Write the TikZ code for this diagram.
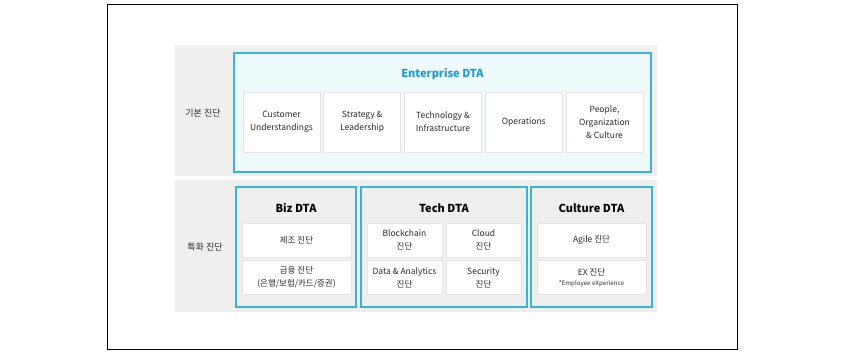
\documentclass[tikz,border=0pt]{standalone}
\usepackage{fontspec}
\setmainfont{Noto Sans CJK KR}
\usepackage{xcolor}
\usetikzlibrary{positioning}

\definecolor{dtacyan}{HTML}{3DB2D4}
\definecolor{dtatitle}{HTML}{1C9CC8}
\definecolor{dtafill}{HTML}{EEFAFC}
\definecolor{panelgray}{HTML}{EFEFEF}
\definecolor{cellline}{HTML}{E4E4E4}
\definecolor{textgray}{HTML}{2A2A2A}

\begin{document}
\begin{tikzpicture}[
  x=1pt, y=-1pt,
  font=\fontsize{8.5}{13}\selectfont,
  text=textgray,
  panel/.style={fill=panelgray, inner sep=0pt},
  group/.style={draw=dtacyan, line width=1.6pt, inner sep=0pt},
  cell/.style={draw=cellline, fill=white, line width=0.8pt,
               align=center, inner sep=0pt},
  title/.style={font=\fontsize{11}{13}\selectfont\bfseries, text=black},
  rowlabel/.style={font=\fontsize{9}{11}\selectfont}
]
  \useasboundingbox (0,0) rectangle (844,355);
  \draw[line width=1pt] (107,5) rectangle (737,350);

  % --- Gray background panels ---
  \node[panel, minimum width=482, minimum height=131] (basepanel) at (416,110.5) {};
  \node[panel, minimum width=482, minimum height=132] (specpanel) at (416,246) {};

  % --- Row labels ---
  \node[rowlabel] (baselbl) at (203,113) {기본 진단};
  \node[rowlabel] (speclbl) at (205,247) {특화 진단};

  % --- Enterprise DTA (top row) ---
  \node[group, fill=dtafill, minimum width=417, minimum height=119] (ent) at (442.5,112.5) {};
  \node[title, text=dtatitle] (enttitle) at (442.5,74) {Enterprise DTA};

  \node[cell, minimum width=77, minimum height=60] (cust)   at (281.5,122) {Customer\\Understandings};
  \node[cell, minimum width=77, minimum height=60] (strat)  at (362.25,122) {Strategy \&\\Leadership};
  \node[cell, minimum width=77, minimum height=60] (tech)   at (443,122) {Technology \&\\Infrastructure};
  \node[cell, minimum width=77, minimum height=60] (ops)    at (523.75,122) {Operations};
  \node[cell, minimum width=77, minimum height=60] (people) at (604.5,122) {People,\\Organization\\\& Culture};

  % --- Biz DTA ---
  \node[group, minimum width=120, minimum height=120] (biz) at (296,247) {};
  \node[title] (biztitle) at (296,208) {Biz DTA};
  \node[cell, minimum width=109, minimum height=34] (mfg) at (296.5,240) {제조 진단};
  \node[cell, minimum width=109, minimum height=34] (fin) at (296.5,277.5) {금융 진단\\(은행/보험/카드/증권)};

  % --- Tech DTA ---
  \node[group, minimum width=166, minimum height=120] (techdta) at (444,247) {};
  \node[title] (techtitle) at (444,208) {Tech DTA};
  \node[cell, minimum width=75, minimum height=34] (bc)    at (404.5,240) {Blockchain\\진단};
  \node[cell, minimum width=75, minimum height=34] (cloud) at (483.5,240) {Cloud\\진단};
  \node[cell, minimum width=75, minimum height=34] (data)  at (404.5,277.5) {Data \& Analytics\\진단};
  \node[cell, minimum width=75, minimum height=34] (sec)   at (483.5,277.5) {Security\\진단};

  % --- Culture DTA ---
  \node[group, minimum width=121, minimum height=120] (cult) at (591.5,247) {};
  \node[title] (culttitle) at (591.5,208) {Culture DTA};
  \node[cell, minimum width=109, minimum height=34] (agile) at (591.5,240) {Agile 진단};
  \node[cell, minimum width=109, minimum height=34] (ex)    at (591.5,277.5)
    {EX 진단\\[-3pt]{\fontsize{6.2}{7}\selectfont *Employee eXperience}};
\end{tikzpicture}
\end{document}
